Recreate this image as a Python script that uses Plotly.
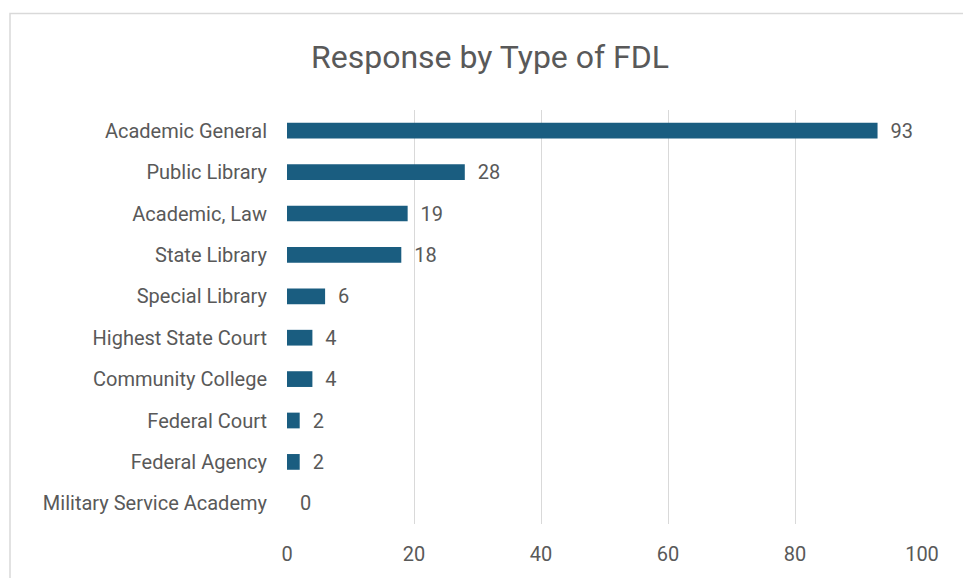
import plotly.graph_objects as go

categories = ["Academic General", "Public Library", "Academic, Law", "State Library",
              "Special Library", "Highest State Court", "Community College",
              "Federal Court", "Federal Agency", "Military Service Academy"]
values = [93, 28, 19, 18, 6, 4, 4, 2, 2, 0]
x_ticks = [0, 20, 40, 60, 80, 100]

FONT = "Roboto, sans-serif"
GRAY = "#595959"

# page body has an 8px margin; figure coords = reference coords - 8
W, H = 955, 570
PL, PR, PT, PB = 279, 914, 102, 522

fig = go.Figure(go.Bar(
    x=values, y=categories, orientation="h",
    marker=dict(color="#1a5d80", line=dict(width=0)),
    width=0.38,
    text=values, texttemplate="  %{x}", textposition="outside",
    constraintext="none",
    textfont=dict(family=FONT, size=20, color=GRAY),
    cliponaxis=False,
))

fig.update_layout(
    width=W, height=H,
    margin=dict(l=PL, r=W - PR, t=PT, b=H - PB),
    paper_bgcolor="white", plot_bgcolor="white",
    title=dict(text="Response by Type of FDL", x=(490 - 8) / W, xref="container",
               xanchor="center", y=1 - (57 - 8) / H, yanchor="middle",
               font=dict(family=FONT, size=32, color=GRAY)),
    showlegend=False,
    xaxis=dict(range=[0, 100], tickvals=x_ticks, showgrid=True, gridcolor="#d9d9d9",
               gridwidth=1, zeroline=False, showline=False,
               tickfont=dict(family=FONT, size=20, color=GRAY),
               ticks="outside", ticklen=12, tickcolor="rgba(0,0,0,0)"),
    yaxis=dict(categoryorder="array", categoryarray=categories[::-1],
               showgrid=False, zeroline=False, showline=False,
               tickfont=dict(family=FONT, size=20, color=GRAY),
               ticks="outside", ticklen=15, tickcolor="rgba(0,0,0,0)"),
    shapes=[dict(type="rect", xref="paper", yref="paper",
                 x0=(2 - PL) / (PR - PL), x1=1.3,
                 y0=-0.3, y1=(PB - 4) / (PB - PT),
                 line=dict(color="#d9d9d9", width=1.5), fillcolor="rgba(0,0,0,0)",
                 layer="below")],
)

fig.write_html("out.html")
